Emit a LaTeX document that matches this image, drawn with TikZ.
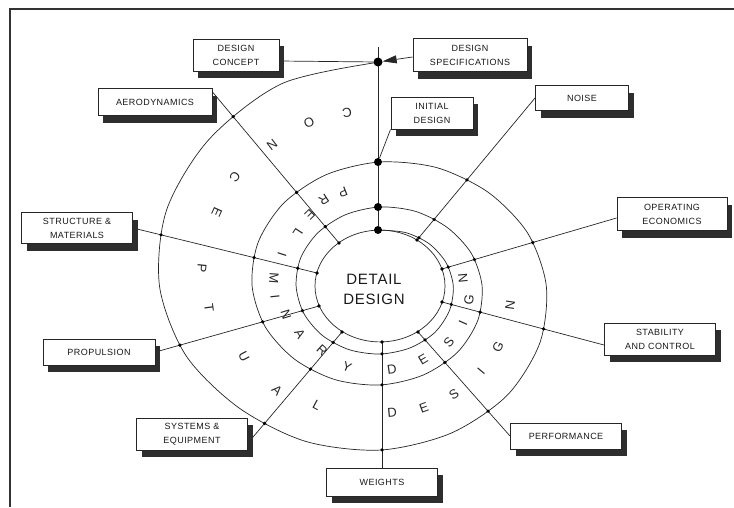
\documentclass[tikz,border=0pt]{standalone}
\usepackage{fontspec}
\newfontfamily\plotfont[LetterSpace=5]{Liberation Sans}
\usetikzlibrary{arrows.meta, backgrounds, intersections, shadows}

\begin{document}
\begin{tikzpicture}[x=1pt, y=-1pt,
  ring/.style={line width=0.7pt, black!85},
  spoke/.style={line width=0.7pt, black!85},
  topic/.style={draw=black!85, line width=1pt, fill=white, inner sep=2pt, align=center,
    text=black!90, font=\plotfont\fontsize{9}{14}\selectfont,
    general shadow={fill=black!82, shadow xshift=5pt, shadow yshift=-7pt}},
  bigdot/.style={circle, fill=black, inner sep=0pt, minimum size=8pt},
  ringletter/.style={inner sep=0pt, text=black!85, font=\plotfont\fontsize{13}{13}\selectfont}]

  \useasboundingbox (0,0) rectangle (734,507);
  \draw[line width=2pt, black!80] (734,9) -- (10,9) -- (10,507);

  % topic boxes
  \node[topic, minimum width=86pt, minimum height=32pt] (concept) at (236,55) {DESIGN\\CONCEPT};
  \node[topic, minimum width=114pt, minimum height=33pt] (spec) at (470,55) {DESIGN\\SPECIFICATIONS};
  \node[topic, minimum width=114pt, minimum height=27pt] (aero) at (155,102) {AERODYNAMICS};
  \node[topic, minimum width=82pt, minimum height=32pt] (initial) at (432,113) {INITIAL\\DESIGN};
  \node[topic, minimum width=93pt, minimum height=25pt] (noise) at (582,98) {NOISE};
  \node[topic, minimum width=110pt, minimum height=33pt] (opecon) at (672,214) {OPERATING\\ECONOMICS};
  \node[topic, minimum width=111pt, minimum height=31pt] (struct) at (77,228) {STRUCTURE \&\\MATERIALS};
  \node[topic, minimum width=112pt, minimum height=26pt] (prop) at (99,352) {PROPULSION};
  \node[topic, minimum width=111pt, minimum height=32pt] (sys) at (192,434) {SYSTEMS \&\\EQUIPMENT};
  \node[topic, minimum width=111pt, minimum height=28pt] (weights) at (382,482) {WEIGHTS};
  \node[topic, minimum width=111pt, minimum height=32pt] (stab) at (660,339) {STABILITY\\AND CONTROL};
  \node[topic, minimum width=111pt, minimum height=26pt] (perf) at (566,436) {PERFORMANCE};

  \node[align=center, text=black!90, font=\plotfont\fontsize{15}{20}\selectfont] (detail) at (374,289) {DETAIL\\DESIGN};

  % turn points of the spiral
  \node[bigdot, minimum size=9pt] (d1) at (378,62) {};
  \node[bigdot] (d2) at (378,162) {};
  \node[bigdot] (d3) at (378,207) {};
  \node[bigdot] (d4) at (378,230) {};
  \coordinate (axistop) at (378,47);

  \coordinate (aero-in) at (339,243);
  \coordinate (struct-in) at (317,273);
  \coordinate (prop-in) at (319,306);
  \coordinate (sys-in) at (342,332);
  \coordinate (weights-in) at (382,342);
  \coordinate (perf-in) at (418,332);
  \coordinate (stab-in) at (442,302);
  \coordinate (opecon-in) at (442,269);
  \coordinate (noise-in) at (417,240);
  \coordinate (aero-out) at ([yshift=10pt]aero.east);
  \coordinate (sys-out) at ([yshift=-9pt]sys.east);
  \coordinate (stab-out) at ([yshift=-6pt]stab.west);
  \coordinate (opecon-out) at ([yshift=-4pt]opecon.west);

  \foreach \lx/\ly/\ch [count=\i] in {347/113/C, 309/123/O, 272/145/N, 235/177/C, 217/212/E,
      202/268/P, 209/308/T, 244/357/U, 277/390/A, 317/405/L, 392/413/D, 424/408/E,
      454/394/S, 481/371/I, 498/347/G, 510/305/N} {
    \pgfmathsetmacro\rot{atan2(\ly-286,380-\lx)-90}
    \node[ringletter, rotate=\rot] (cl\i) at (\lx,\ly) {\ch};
  }
  \foreach \lx/\ly/\ch [count=\i] in {343/192/P, 324/200/R, 310/215/E, 298/233/L, 282/255/I,
      274/278/M, 275/297/I, 286/315/N, 300/334/A, 322/350/R, 347/367/Y, 392/369/D,
      423/359/E, 449/342/S, 463/323/I, 469/300/G, 463/278/N} {
    \pgfmathsetmacro\rot{atan2(\ly-286,380-\lx)-90}
    \node[ringletter, rotate=\rot] (pl\i) at (\lx,\ly) {\ch};
  }

  \begin{scope}[on background layer]
    % spiral and core, polar about the centre of the core
    \begin{scope}[shift={(380,286)}, yscale=-0.86]
      \draw[ring, name path global=spiral] plot[smooth] coordinates {
        (90:260.5) (112.5:255) (135:241.5) (157.5:231) (180:220.5) (202.5:210.3)
        (225:200) (247.5:195.4) (270:190.8) (292.5:185.3) (315:179.8) (337.5:173)
        (360:166.3) (382.5:160) (405:153.6) (427.5:148.9) (450:144.2)
        (472.5:140.2) (495:136.2) (517.5:132) (540:127.9) (562.5:124.2) (585:120.6)
        (607.5:117.8) (630:115.1) (652.5:112.2) (675:109.3) (697.5:105.7) (720:102.1)
        (742.5:98.9) (765:95.7) (787.5:93.8) (810:91.9)
        (832.5:89.8) (855:87.7) (877.5:85.8) (900:83.9) (922.5:82.6) (945:81.4)
        (967.5:80.2) (990:79.1) (1012.5:78) (1035:77) (1057.5:75.1) (1080:73.3)
        (1102.5:71.4) (1125:69.5) (1147.5:67.2) (1170:65)};
      \draw[ring] (0,0) circle [radius=65];
    \end{scope}

    \draw[spoke] (axistop) -- (d4);
    \draw[spoke] (initial.south west) -- (d2);
    \draw[spoke] ([yshift=-6pt]concept.east) -- (d1);
    \draw[spoke, -{Triangle[length=14pt, width=8pt]}] ([yshift=-2pt]spec.west) -- (d1);

    \foreach \from/\to in {aero-out/aero-in, struct.east/struct-in, prop.east/prop-in,
        sys-out/sys-in, weights.north/weights-in, perf.west/perf-in,
        stab-out/stab-in, opecon-out/opecon-in, noise.west/noise-in} {
      \draw[spoke, name path=sp] (\from) -- (\to);
      \fill[black] (\to) circle (1.8);
      \fill[black, name intersections={of=spiral and sp, name=x, total=\t}]
        \foreach \k in {1,...,\t} {(x-\k) circle (1.8)};
    }
  \end{scope}
\end{tikzpicture}
\end{document}
